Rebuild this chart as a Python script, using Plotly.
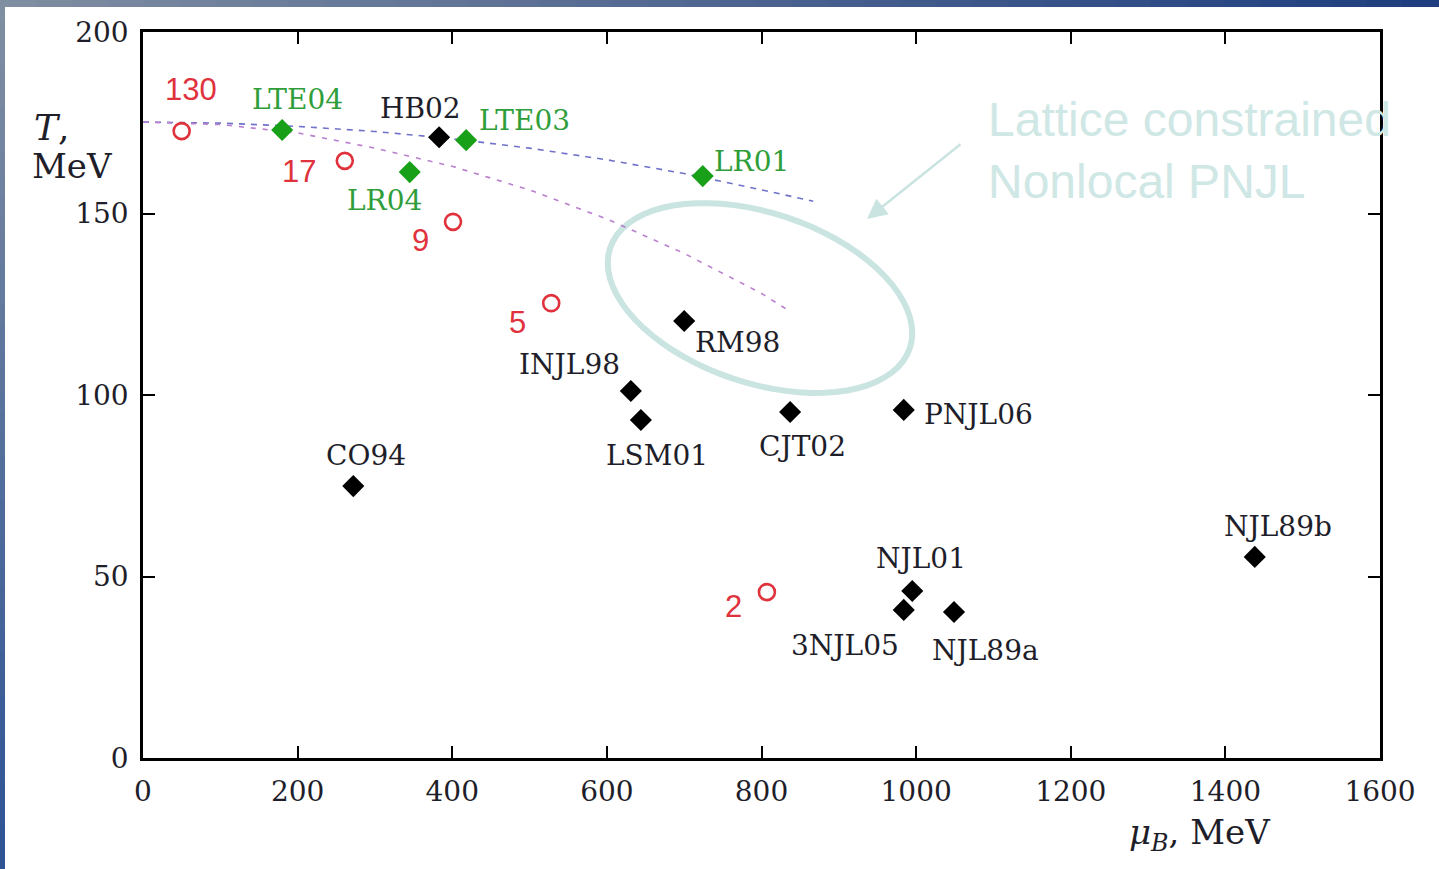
import math
import plotly.graph_objects as go

# ---------------- data ----------------
red_mu = [50, 261, 401, 528, 807]
red_T = [172.7, 164.5, 147.7, 125.3, 45.7]
red_labels = ["130", "17", "9", "5", "2"]

green_mu = [180, 345, 418, 724]
green_T = [173.0, 161.4, 170.2, 160.3]
green_labels = ["LTE04", "LR04", "LTE03", "LR01"]

black_mu = [383, 700, 631, 644, 837, 984, 272, 1438, 995, 984, 1049]
black_T = [171.0, 120.4, 101.1, 93.1, 95.3, 95.9, 74.9, 55.4, 46.0, 40.8, 40.2]
black_labels = ["HB02", "RM98", "INJL98", "LSM01", "CJT02", "PNJL06", "CO94",
                "NJL89b", "NJL01", "3NJL05", "NJL89a"]

upper_mu = [0, 100, 200, 300, 400, 500, 600, 700, 800, 867]
upper_T = [175.2, 174.9, 174.0, 172.6, 170.6, 168.0, 164.8, 161.0, 156.5, 153.4]

lower_mu = [0, 100, 200, 300, 400, 500, 600, 700, 800, 837]
lower_T = [175.2, 174.5, 172.2, 168.0, 163.0, 156.5, 148.5, 139.0, 128.0, 123.0]

x_ticks = [0, 200, 400, 600, 800, 1000, 1200, 1400, 1600]
y_ticks = [0, 50, 100, 150, 200]

# ---------------- label offsets (pixels, dx right, dy down) ----------------
red_off = [(9, -42), (-46, 11), (-33, 19), (-34, 19), (-33, 14)]
green_off = [(15, -31), (-25, 28), (58, -20), (49, -15)]
black_off = [(-19, -29), (53, 22), (-61, -27), (16, 35), (12, 34), (75, 5),
             (13, -31), (23, -30), (9, -33), (-59, 36), (31, 38)]

# ---------------- geometry ----------------
W, H = 1439, 869
L, R, T_, B = 143, 1380, 32, 758
PW, PH = R - L, B - T_

def px2x(px):
    return (px - L) / PW * 1600

def py2y(py):
    return (B - py) / PH * 200

def pxp(px):
    return (px - L) / PW

def pyp(py):
    return (B - py) / PH

SERIF = "DejaVu Serif"
SANS = "Liberation Sans"
RED = "#e0323c"
TEAL = "#c9e4e1"
INK = "#1e1e2a"

fig = go.Figure()

fig.add_trace(go.Scatter(x=upper_mu, y=upper_T, mode="lines",
                         line=dict(color="#6f72c8", width=1.6, dash="6px,6px"),
                         hoverinfo="skip"))
fig.add_trace(go.Scatter(x=lower_mu, y=lower_T, mode="lines",
                         line=dict(color="#b97fcf", width=1.6, dash="5px,7px"),
                         hoverinfo="skip"))
fig.add_trace(go.Scatter(x=red_mu, y=red_T, mode="markers",
                         marker=dict(symbol="circle-open", size=16, color=RED,
                                     line=dict(width=2.6, color=RED))))
fig.add_trace(go.Scatter(x=green_mu, y=green_T, mode="markers",
                         marker=dict(symbol="diamond", size=17, color="#19a019",
                                     line=dict(width=0))))
fig.add_trace(go.Scatter(x=black_mu, y=black_T, mode="markers",
                         marker=dict(symbol="diamond", size=17, color="black",
                                     line=dict(width=0))))

ann = []
for x, y, t, (dx, dy) in zip(red_mu, red_T, red_labels, red_off):
    ann.append(dict(x=x, y=y, text=t, showarrow=False, xshift=dx, yshift=-dy,
                    font=dict(family=SANS, size=31, color=RED)))
for x, y, t, (dx, dy) in zip(green_mu, green_T, green_labels, green_off):
    ann.append(dict(x=x, y=y, text=t, showarrow=False, xshift=dx, yshift=-dy,
                    font=dict(family=SERIF, size=28, color="#2f9e3a")))
for x, y, t, (dx, dy) in zip(black_mu, black_T, black_labels, black_off):
    ann.append(dict(x=x, y=y, text=t, showarrow=False, xshift=dx, yshift=-dy,
                    font=dict(family=SERIF, size=28, color=INK)))

# axis titles
ann.append(dict(xref="paper", yref="paper", x=pxp(51), y=pyp(127),
                xanchor="center", yanchor="middle",
                text="<i>T</i>,", showarrow=False,
                font=dict(family=SERIF, size=36, color=INK)))
ann.append(dict(xref="paper", yref="paper", x=pxp(72), y=pyp(166),
                xanchor="center", yanchor="middle",
                text="MeV", showarrow=False,
                font=dict(family=SERIF, size=34, color=INK)))
ann.append(dict(xref="paper", yref="paper", x=pxp(1200), y=pyp(810),
                xanchor="center", yanchor="top",
                text="<i>μ</i><sub><i>B</i></sub>, MeV", showarrow=False,
                font=dict(family=SERIF, size=34, color=INK)))

# overlay text and arrow
ann.append(dict(xref="paper", yref="paper", x=pxp(986), y=pyp(150),
                xanchor="left", yanchor="middle", align="left",
                text="Lattice constrained<br>Nonlocal PNJL", showarrow=False,
                font=dict(family=SANS, size=48, color="#cfe7e5")))
ann.append(dict(xref="paper", yref="paper", x=pxp(867), y=pyp(219),
                ax=95, ay=-76, text="", showarrow=True, arrowhead=2,
                arrowsize=1.6, arrowwidth=2.5, arrowcolor=TEAL))

# ellipse (pixel-defined overlay, converted to data coords)
cx, cy, a, b, th = 760, 298, 158, 85, math.radians(18.5)
pts = []
for i in range(73):
    t = 2 * math.pi * i / 72
    sx = cx + a * math.cos(t) * math.cos(th) - b * math.sin(t) * math.sin(th)
    sy = cy + a * math.cos(t) * math.sin(th) + b * math.sin(t) * math.cos(th)
    pts.append((px2x(sx), py2y(sy)))
path = "M " + " L ".join(f"{x:.2f},{y:.3f}" for x, y in pts) + " Z"

shapes = [dict(type="path", xref="x", yref="y", path=path,
               line=dict(color=TEAL, width=6), layer="below")]

# border bars (gradient approximated by segments)
def lerp(c1, c2, f):
    return "rgb(%d,%d,%d)" % tuple(int(c1[k] + (c2[k] - c1[k]) * f) for k in range(3))

n = 40
top_l, top_r = (128, 142, 162), (30, 62, 128)
for i in range(n):
    x0 = W * i / n
    x1 = W * (i + 1) / n + 1
    shapes.append(dict(type="rect", xref="paper", yref="paper",
                       x0=pxp(x0), x1=pxp(x1), y0=pyp(7), y1=pyp(0),
                       line=dict(width=0), fillcolor=lerp(top_l, top_r, i / (n - 1)),
                       layer="above"))
lt, lb = (128, 142, 162), (46, 84, 150)
for i in range(n):
    y0 = H * i / n
    y1 = H * (i + 1) / n + 1
    shapes.append(dict(type="rect", xref="paper", yref="paper",
                       x0=pxp(0), x1=pxp(5), y0=pyp(y1), y1=pyp(y0),
                       line=dict(width=0), fillcolor=lerp(lt, lb, i / (n - 1)),
                       layer="above"))

axis_common = dict(showgrid=False, zeroline=False, showline=True, linecolor="black",
                   linewidth=2.5, mirror="ticks", ticks="inside", ticklen=12,
                   tickwidth=2, tickcolor="black",
                   tickfont=dict(family=SERIF, size=28, color=INK))

fig.update_layout(
    width=W, height=H,
    margin=dict(l=L, r=W - R, t=T_, b=H - B, pad=0),
    paper_bgcolor="white", plot_bgcolor="white",
    showlegend=False,
    xaxis=dict(range=[0, 1600], tickvals=x_ticks, ticklabelstandoff=7, **axis_common),
    yaxis=dict(range=[0, 200], tickvals=y_ticks, ticklabelstandoff=6, **axis_common),
    annotations=ann,
    shapes=shapes,
)

fig.write_html("out.html", config={"displayModeBar": False},
               post_script="document.body.style.margin='0';document.body.style.overflow='hidden';")
